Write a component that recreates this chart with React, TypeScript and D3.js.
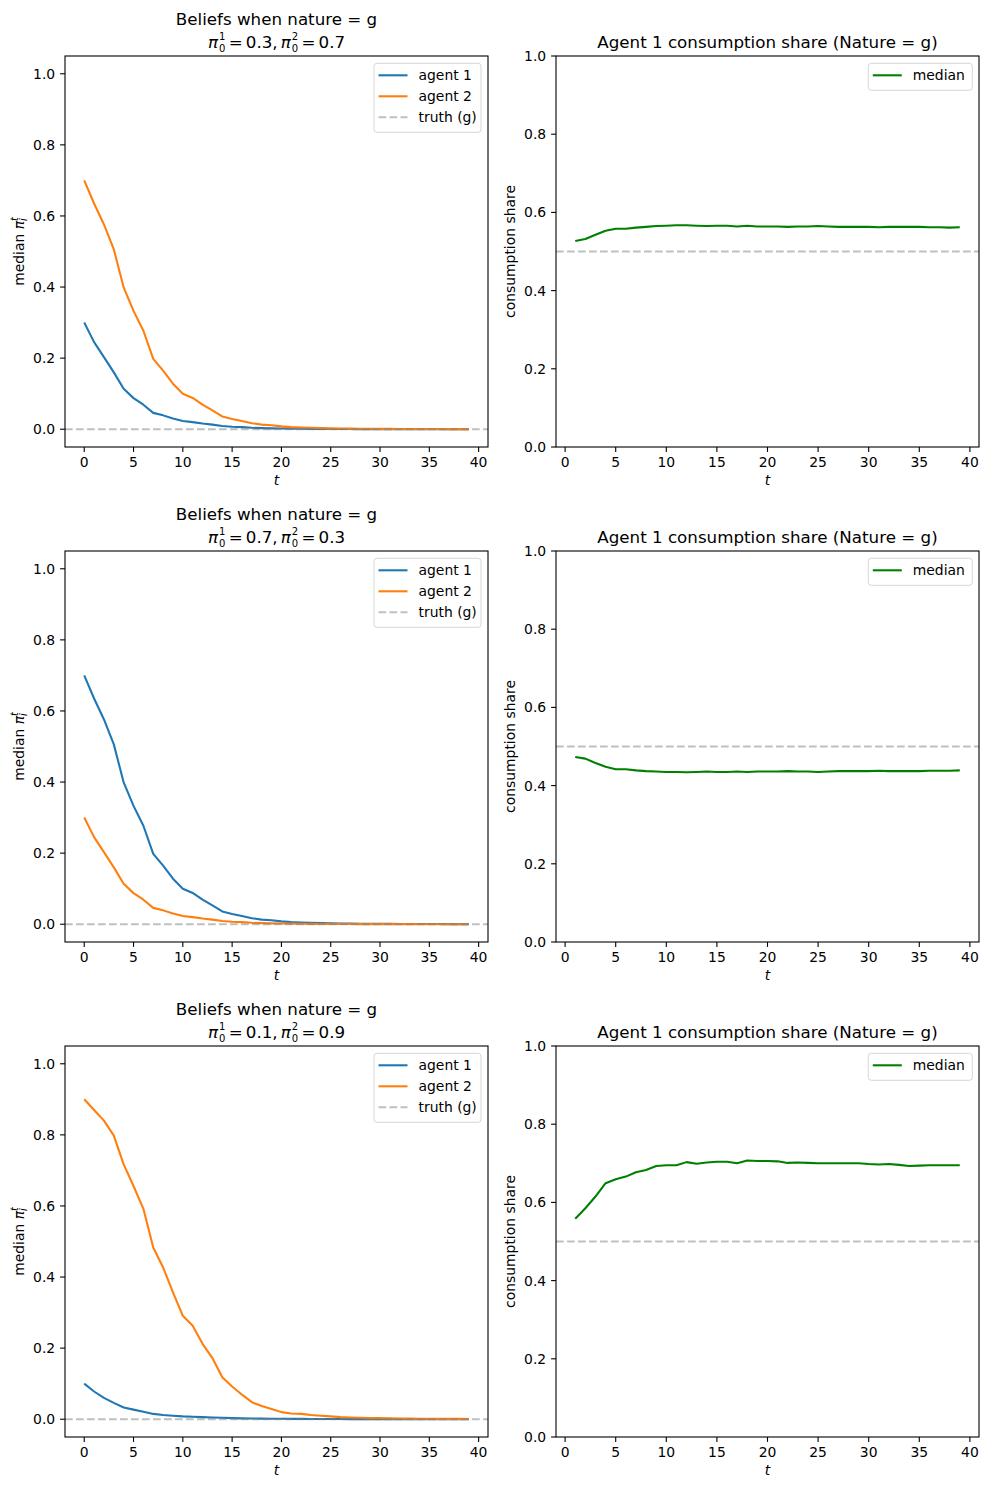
import * as d3 from 'd3';

// t = 0..39 for beliefs, t = 1..39 for consumption shares
const beliefSteps = d3.range(0, 40);
const shareSteps = d3.range(1, 40);

// median beliefs
const priorHigh = [
  0.70, 0.635, 0.576, 0.506, 0.399, 0.333, 0.277, 0.198, 0.165, 0.128,
  0.0996, 0.088, 0.069, 0.053, 0.036, 0.029, 0.023, 0.017, 0.013, 0.011,
  0.008, 0.006, 0.005, 0.004, 0.003, 0.0025, 0.002, 0.0017, 0.0014, 0.0012,
  0.001, 0.0009, 0.0008, 0.0007, 0.0006, 0.0005, 0.0005, 0.0004, 0.0004, 0.0003,
];
const priorLow = [
  0.30, 0.245, 0.203, 0.160, 0.114, 0.0875, 0.069, 0.046, 0.039, 0.030,
  0.023, 0.020, 0.016, 0.013, 0.009, 0.007, 0.006, 0.004, 0.003, 0.0025,
  0.002, 0.0016, 0.0013, 0.001, 0.0008, 0.0007, 0.0006, 0.0005, 0.0004, 0.0003,
  0.0003, 0.0002, 0.0002, 0.0002, 0.0001, 0.0001, 0.0001, 0.0001, 0.0001, 0.0001,
];
const priorNine = [
  0.90, 0.87, 0.84, 0.798, 0.717, 0.656, 0.592, 0.483, 0.427, 0.357,
  0.291, 0.263, 0.212, 0.172, 0.118, 0.092, 0.069, 0.048, 0.037, 0.029,
  0.020, 0.016, 0.015, 0.012, 0.010, 0.008, 0.006, 0.005, 0.004, 0.003,
  0.003, 0.0025, 0.002, 0.0018, 0.0015, 0.0013, 0.0011, 0.001, 0.0009, 0.0008,
];
const priorOne = [
  0.10, 0.078, 0.060, 0.046, 0.033, 0.027, 0.021, 0.015, 0.012, 0.010,
  0.008, 0.007, 0.006, 0.005, 0.004, 0.003, 0.0025, 0.002, 0.0017, 0.0014,
  0.0012, 0.001, 0.0009, 0.0008, 0.0007, 0.0006, 0.0005, 0.0004, 0.0004, 0.0003,
  0.0003, 0.0002, 0.0002, 0.0002, 0.0002, 0.0001, 0.0001, 0.0001, 0.0001, 0.0001,
];

// agent 1 median consumption share
const shareRow1 = [
  0.527, 0.532, 0.543, 0.553, 0.558, 0.558, 0.561, 0.563, 0.565, 0.566,
  0.567, 0.567, 0.566, 0.565, 0.566, 0.566, 0.564, 0.566, 0.564, 0.564,
  0.564, 0.563, 0.564, 0.564, 0.565, 0.564, 0.563, 0.563, 0.563, 0.563,
  0.562, 0.563, 0.563, 0.563, 0.563, 0.562, 0.562, 0.561, 0.562,
];
const shareRow2 = [
  0.473, 0.469, 0.458, 0.448, 0.442, 0.442, 0.439, 0.437, 0.436, 0.435,
  0.435, 0.434, 0.435, 0.436, 0.435, 0.435, 0.436, 0.435, 0.436, 0.436,
  0.436, 0.437, 0.436, 0.436, 0.435, 0.436, 0.437, 0.437, 0.437, 0.437,
  0.438, 0.437, 0.437, 0.437, 0.437, 0.438, 0.438, 0.438, 0.439,
];
const shareRow3 = [
  0.558, 0.585, 0.615, 0.649, 0.659, 0.666, 0.677, 0.683, 0.693, 0.695,
  0.695, 0.703, 0.699, 0.702, 0.704, 0.704, 0.700, 0.707, 0.706, 0.706,
  0.705, 0.701, 0.702, 0.701, 0.700, 0.700, 0.700, 0.700, 0.700, 0.698,
  0.697, 0.698, 0.696, 0.693, 0.694, 0.695, 0.695, 0.695, 0.695,
];

const rows = [
  { p1: '0.3', p2: '0.7', agent1: priorLow, agent2: priorHigh, share: shareRow1 },
  { p1: '0.7', p2: '0.3', agent1: priorHigh, agent2: priorLow, share: shareRow2 },
  { p1: '0.1', p2: '0.9', agent1: priorOne, agent2: priorNine, share: shareRow3 },
];

const xTicks = [0, 5, 10, 15, 20, 25, 30, 35, 40];
const yTicks = [0, 0.2, 0.4, 0.6, 0.8, 1.0];

const FONT = 'DejaVu Sans';
const BLUE = '#1f77b4';
const ORANGE = '#ff7f0e';
const GREEN = '#008000';
const LW = 2.08;
const DASH = '7.7,3.3';

const W = 988;
const H = 1490;
const ROW_TOP = [56, 551, 1046];
const AX_H = 391;

interface LegendItem { label: string; color: string; dashed?: boolean }

function Legend({ right, top, width, items }: { right: number; top: number; width: number; items: LegendItem[] }) {
  const x0 = right - width;
  const h = 12 + items.length * 21;
  return (
    <g>
      <rect x={x0} y={top} width={width} height={h - 6} rx={3} fill="white" fillOpacity={0.8}
        stroke="#d6d6d6" strokeWidth={1} />
      {items.map((it, i) => {
        const y = top + 12 + i * 21;
        return (
          <g key={it.label}>
            <line x1={x0 + 4.5} x2={x0 + 33.5} y1={y} y2={y} stroke={it.color}
              strokeOpacity={it.dashed ? 0.5 : 1} strokeWidth={LW}
              strokeDasharray={it.dashed ? DASH : undefined} />
            <text x={x0 + 44.5} y={y + 5} fontSize={13.9}>{it.label}</text>
          </g>
        );
      })}
    </g>
  );
}

function Axes({ x, y, yLabel, labelX }: {
  x: d3.ScaleLinear<number, number>; y: d3.ScaleLinear<number, number>;
  yLabel: React.ReactNode; labelX: number;
}) {
  const [l, r] = x.range();
  const [b, t] = y.range();
  return (
    <g>
      {xTicks.map(v => (
        <g key={'x' + v}>
          <line x1={x(v)} x2={x(v)} y1={b} y2={b + 4.9} stroke="black" strokeWidth={1.1} />
          <text x={x(v)} y={b + 20} textAnchor="middle" fontSize={13.9}>{v}</text>
        </g>
      ))}
      {yTicks.map(v => (
        <g key={'y' + v}>
          <line x1={l - 4.9} x2={l} y1={y(v)} y2={y(v)} stroke="black" strokeWidth={1.1} />
          <text x={l - 9.8} y={y(v)} dy="0.36em" textAnchor="end" fontSize={13.9}>{v.toFixed(1)}</text>
        </g>
      ))}
      <rect x={l} y={t} width={r - l} height={b - t} fill="none" stroke="black" strokeWidth={1.1} />
      <text x={(l + r) / 2} y={b + 38} textAnchor="middle" fontSize={13.9} fontStyle="italic">t</text>
      <text transform={`translate(${labelX},${(t + b) / 2}) rotate(-90)`} textAnchor="middle" fontSize={13.9}>
        {yLabel}
      </text>
    </g>
  );
}

function BeliefPanel({ top, row }: { top: number; row: typeof rows[0] }) {
  const x = d3.scaleLinear().domain([-1.95, 40.95]).range([65, 488]);
  const y = d3.scaleLinear().domain([-0.05, 1.05]).range([top + AX_H, top]);
  const line = d3.line<number>().x((_, i) => x(beliefSteps[i])).y(d => y(d));
  const cx = (65 + 488) / 2;
  const sub = 10;
  const back = -6.4;
  return (
    <g>
      <defs>
        <clipPath id={`clipb${top}`}><rect x={65} y={top} width={423} height={AX_H} /></clipPath>
      </defs>
      <g clipPath={`url(#clipb${top})`}>
        <path d={line(row.agent1) ?? ''} fill="none" stroke={BLUE} strokeWidth={LW} strokeLinejoin="round" />
        <path d={line(row.agent2) ?? ''} fill="none" stroke={ORANGE} strokeWidth={LW} strokeLinejoin="round" />
        <line x1={65} x2={488} y1={y(0)} y2={y(0)} stroke="gray" strokeOpacity={0.5}
          strokeWidth={LW} strokeDasharray={DASH} />
      </g>
      <Axes x={x} y={y} labelX={23.5} yLabel={<>
        median <tspan fontStyle="italic">π</tspan>
        <tspan fontSize={9.7} fontStyle="italic" dy={-6}>t</tspan>
        <tspan fontSize={9.7} fontStyle="italic" dx={-3.8} dy={9}>i</tspan>
      </>} />
      <text x={cx} y={top - 31} textAnchor="middle" fontSize={16.7}>Beliefs when nature = g</text>
      <text x={cx} y={top - 8} textAnchor="middle" fontSize={16.7}>
        <tspan fontStyle="italic">π</tspan>
        <tspan fontSize={sub} dx={1} dy={-8}>1</tspan>
        <tspan fontSize={sub} dx={back} dy={11.5}>0</tspan>
        <tspan dy={-3.5} dx={3.5}>=</tspan>
        <tspan dx={3}>{`${row.p1},`}</tspan>
        <tspan dx={3} fontStyle="italic">π</tspan>
        <tspan fontSize={sub} dx={1} dy={-8}>2</tspan>
        <tspan fontSize={sub} dx={back} dy={11.5}>0</tspan>
        <tspan dy={-3.5} dx={3.5}>=</tspan>
        <tspan dx={3}>{row.p2}</tspan>
      </text>
      <Legend right={481} top={top + 7.3} width={107} items={[
        { label: 'agent 1', color: BLUE },
        { label: 'agent 2', color: ORANGE },
        { label: 'truth (g)', color: 'gray', dashed: true },
      ]} />
    </g>
  );
}

function SharePanel({ top, row }: { top: number; row: typeof rows[0] }) {
  const x = d3.scaleLinear().domain([-0.9, 40.9]).range([556, 979]);
  const y = d3.scaleLinear().domain([0, 1]).range([top + AX_H, top]);
  const line = d3.line<number>().x((_, i) => x(shareSteps[i])).y(d => y(d));
  return (
    <g>
      <line x1={556} x2={979} y1={y(0.5)} y2={y(0.5)} stroke="gray" strokeOpacity={0.5}
        strokeWidth={LW} strokeDasharray={DASH} />
      <path d={line(row.share) ?? ''} fill="none" stroke={GREEN} strokeWidth={LW} strokeLinejoin="round" />
      <Axes x={x} y={y} labelX={514.5} yLabel="consumption share" />
      <text x={(556 + 979) / 2} y={top - 8.3} textAnchor="middle" fontSize={16.7}>
        Agent 1 consumption share (Nature = g)
      </text>
      <Legend right={972.3} top={top + 7.3} width={104} items={[{ label: 'median', color: GREEN }]} />
    </g>
  );
}

export default function App() {
  return (
    <svg width={W} height={H} viewBox={`0 0 ${W} ${H}`} fontFamily={FONT}
      style={{ position: 'absolute', left: 0, top: 0, background: 'white' }}>
      <rect width={W} height={H} fill="white" />
      {rows.map((row, i) => (
        <g key={i}>
          <BeliefPanel top={ROW_TOP[i]} row={row} />
          <SharePanel top={ROW_TOP[i]} row={row} />
        </g>
      ))}
    </svg>
  );
}
